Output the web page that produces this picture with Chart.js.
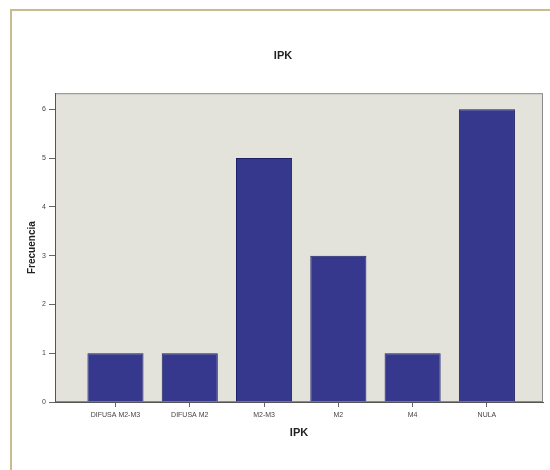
<!DOCTYPE html>
<html>
<head>
<meta charset="utf-8">
<script src="https://cdn.jsdelivr.net/npm/chart.js@4/dist/chart.umd.min.js"></script>
<style>
    body { margin: 0; background: #ffffff; overflow: hidden; }
    #frame {
        position: absolute; left: 10px; top: 9px;
        width: 580px; height: 500px;
        border: 2px solid #c9ba90;
    }
    #chart { position: absolute; left: 0; top: 0; }
</style>
</head>
<body>
<div id="frame"></div>
<canvas id="chart" width="550" height="470"></canvas>
<script>
// data
var categories = ["DIFUSA M2-M3", "DIFUSA M2", "M2-M3", "M2", "M4", "NULA"];
var frecuencia = [1, 1, 5, 3, 1, 6];
var yTicks = [0, 1, 2, 3, 4, 5, 6];

var fontFamily = "'Liberation Sans', Arial, sans-serif";

// grey plot background with a thin frame
var plotBackground = {
    id: "plotBackground",
    beforeDraw: function (chart) {
        let ctx = chart.ctx;
        let a = chart.chartArea;
        ctx.save();
        ctx.fillStyle = "#e3e3db";
        ctx.fillRect(a.left, a.top, a.right - a.left, a.bottom - a.top);
        ctx.strokeStyle = "#8a8a8a";
        ctx.lineWidth = 1;
        ctx.strokeRect(a.left + 0.5, a.top + 0.5, a.right - a.left - 1, a.bottom - a.top - 1);
        ctx.restore();
    }
};

let points = categories.map(function (c, i) {
    return { x: i, y: frecuencia[i] };
});

let canv = document.getElementById("chart").getContext("2d");
let chart = new Chart(canv, {
    type: "bar",
    data: {
        datasets: [
            {
                label: "Frecuencia",
                data: points,
                backgroundColor: "#35388c",
                borderColor: "#1e2066",
                borderWidth: 1,
                categoryPercentage: 1,
                barPercentage: 0.755
            }
        ]
    },
    options: {
        responsive: false,
        animation: false,
        layout: {
            padding: { left: 23, right: 7, top: 0, bottom: 0 }
        },
        plugins: {
            legend: { display: false },
            tooltip: { enabled: false },
            title: {
                display: true,
                text: "IPK",
                color: "#222222",
                font: { family: fontFamily, size: 11, weight: "bold" },
                padding: { top: 49, bottom: 31 }
            }
        },
        scales: {
            x: {
                type: "linear",
                offset: false,
                min: -0.814,
                max: 5.755,
                afterBuildTicks: function (scale) {
                    scale.ticks = categories.map(function (c, i) { return { value: i }; });
                },
                afterFit: function (scale) {
                    scale.height = 68;
                },
                ticks: {
                    autoSkip: false,
                    maxRotation: 0,
                    padding: 4,
                    color: "#444444",
                    font: { family: fontFamily, size: 7 },
                    callback: function (value) { return categories[value]; }
                },
                grid: {
                    offset: false,
                    drawOnChartArea: false,
                    drawTicks: true,
                    tickLength: 5,
                    color: "#666666"
                },
                border: { color: "#555555", width: 1 },
                title: {
                    display: true,
                    text: "IPK",
                    color: "#222222",
                    font: { family: fontFamily, size: 11, weight: "bold" },
                    padding: { top: 0, bottom: 30 }
                }
            },
            y: {
                min: 0,
                max: 6.33,
                afterBuildTicks: function (scale) {
                    scale.ticks = yTicks.map(function (v) { return { value: v }; });
                },
                afterFit: function (scale) {
                    scale.width = 32;
                },
                ticks: {
                    padding: 3,
                    color: "#444444",
                    font: { family: fontFamily, size: 7 }
                },
                grid: {
                    drawOnChartArea: false,
                    drawTicks: true,
                    tickLength: 6,
                    color: "#666666"
                },
                border: { color: "#555555", width: 1 },
                title: {
                    display: true,
                    text: "Frecuencia",
                    color: "#222222",
                    font: { family: fontFamily, size: 10, weight: "bold" },
                    padding: { top: 3, bottom: 0 }
                }
            }
        }
    },
    plugins: [plotBackground]
});
</script>
</body>
</html>
